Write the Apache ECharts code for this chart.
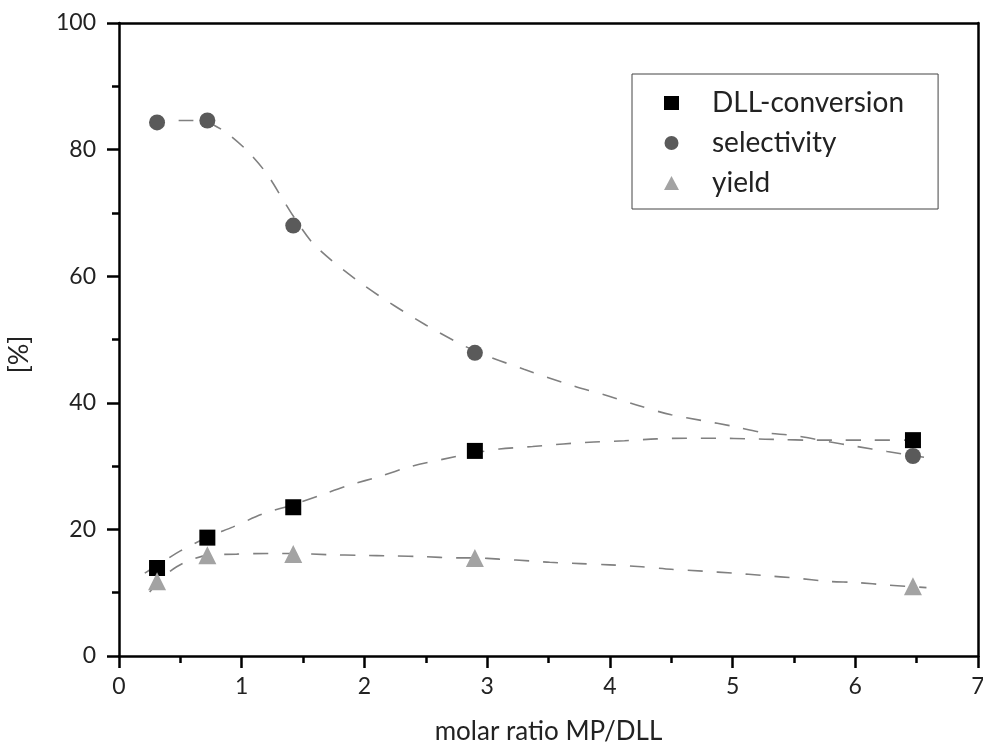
<!DOCTYPE html>
<html><head><meta charset="utf-8">
<script src="https://cdn.jsdelivr.net/npm/echarts@6/dist/echarts.min.js"></script>
<style>html,body{margin:0;padding:0;background:#fff}#c{width:983px;height:748px}</style>
</head><body><div id="c"></div>
<script>
// measured points
const convX = [0.31, 0.72, 1.42, 2.90, 6.47];
const convY = [13.9, 18.7, 23.5, 32.4, 34.1];
const selX = [0.31, 0.72, 1.42, 2.90, 6.47];
const selY = [84.3, 84.6, 68.0, 47.9, 31.6];
const yieldX = [0.31, 0.72, 1.42, 2.90, 6.47];
const yieldY = [11.8, 15.9, 16.1, 15.5, 11.0];
// dashed fit curves
const convFitX = [0.21, 0.31, 0.5, 0.72, 0.93, 1.18, 1.42, 1.64, 1.88, 2.13, 2.37, 2.62, 2.90, 3.1, 3.37, 3.62, 3.87, 4.12, 4.38, 4.63, 4.88, 5.14, 5.39, 5.63, 5.9, 6.14, 6.45];
const convFitY = [13.1, 14.3, 16.6, 18.75, 20.4, 22.5, 23.9, 25.4, 27.0, 28.4, 29.9, 31.0, 32.1, 32.7, 33.1, 33.5, 33.8, 34.0, 34.3, 34.4, 34.4, 34.3, 34.2, 34.1, 34.1, 34.1, 34.1];
const selFitX = [0.25, 0.4, 0.55, 0.72, 0.88, 1.04, 1.2, 1.33, 1.42, 1.6, 2.0, 2.5, 2.9, 3.3, 3.7, 4.0, 4.26, 4.5, 4.75, 5.0, 5.25, 5.51, 5.77, 6.01, 6.26, 6.56];
const selFitY = [84.3, 84.6, 84.6, 84.3, 82.6, 79.9, 76.3, 72.3, 69.5, 64.8, 58.5, 52.3, 48.2, 45.3, 42.7, 41.0, 39.4, 38.1, 37.2, 36.3, 35.3, 34.8, 33.9, 33.1, 32.3, 31.4];
const yieldFitX = [0.25, 0.35, 0.47, 0.6, 0.72, 0.96, 1.23, 1.42, 1.72, 1.96, 2.24, 2.48, 2.75, 2.9, 3.1, 3.37, 3.51, 3.76, 4.0, 4.26, 4.5, 4.76, 5.0, 5.26, 5.52, 5.77, 6.01, 6.27, 6.58];
const yieldFitY = [10.1, 12.3, 14.1, 15.3, 15.9, 16.1, 16.2, 16.2, 16.0, 15.9, 15.8, 15.7, 15.5, 15.5, 15.3, 15.0, 14.8, 14.6, 14.4, 14.1, 13.7, 13.4, 13.1, 12.7, 12.3, 11.8, 11.6, 11.2, 10.8];
const seriesNames = ['DLL-conversion', 'selectivity', 'yield'];
const xTicks = [0, 1, 2, 3, 4, 5, 6, 7];
const yTicks = [0, 20, 40, 60, 80, 100];

const zip = (a, b) => a.map((v, i) => [v, b[i]]);
const font = 'Lato, "Open Sans", sans-serif';
const chart = echarts.init(document.getElementById('c'), null, {renderer: 'canvas'});
const fitStyle = {type: [15, 14], color: '#808080', width: 1.6};
const fitSeries = (d) => ({type: 'line', data: d, smooth: 0.3, symbol: 'none', lineStyle: fitStyle, silent: true, z: 2});
chart.setOption({
  animation: false,
  backgroundColor: '#fff',
  grid: {left: 119, right: 5, top: 23, bottom: 92, outerBoundsMode: 'none', containLabel: false},
  legend: {
    data: seriesNames,
    orient: 'vertical',
    left: 632, top: 74,
    padding: [15, 34, 12, 32],
    itemGap: 12,
    itemWidth: 15, itemHeight: 14,
    borderColor: '#444', borderWidth: 1,
    textStyle: {fontFamily: font, fontSize: 28, lineHeight: 26, color: '#222', padding: [0, 0, 0, 28]}
  },
  xAxis: [{
    type: 'value', min: 0, max: 7, interval: 1, position: 'bottom',
    name: 'molar ratio MP/DLL', nameLocation: 'middle', nameGap: 63,
    nameTextStyle: {fontFamily: font, fontSize: 26, color: '#222'},
    axisLine: {lineStyle: {color: '#000', width: 2.5}},
    axisTick: {inside: false, length: 12, lineStyle: {width: 2.5, color: '#000'}},
    minorTick: {show: true, splitNumber: 2, length: 7, lineStyle: {width: 2.5, color: '#000'}},
    axisLabel: {fontFamily: font, fontSize: 23, color: '#222', margin: 19, formatter: v => xTicks.includes(v) ? String(v) : ''},
    splitLine: {show: false}
  }, {
    type: 'value', min: 0, max: 7, position: 'top',
    axisLine: {show: true, onZero: false, lineStyle: {color: '#000', width: 2.5}},
    axisTick: {show: false}, axisLabel: {show: false}, splitLine: {show: false}
  }],
  yAxis: [{
    type: 'value', min: 0, max: 100, interval: 20, position: 'left',
    name: '[%]', nameLocation: 'middle', nameGap: 86, nameRotate: 90,
    nameTextStyle: {fontFamily: font, fontSize: 27, color: '#222', padding: [0, 30, 0, 0]},
    axisLine: {show: true, lineStyle: {color: '#000', width: 2.5}},
    axisTick: {show: true, inside: false, length: 12, lineStyle: {width: 2.5, color: '#000'}},
    minorTick: {show: true, splitNumber: 2, length: 7, lineStyle: {width: 2.5, color: '#000'}},
    axisLabel: {fontFamily: font, fontSize: 23, color: '#222', margin: 23, formatter: v => yTicks.includes(v) ? String(v) : ''},
    splitLine: {show: false}
  }, {
    type: 'value', min: 0, max: 100, position: 'right',
    axisLine: {show: true, onZero: false, lineStyle: {color: '#000', width: 2.5}},
    axisTick: {show: false}, axisLabel: {show: false}, splitLine: {show: false}
  }],
  series: [
    fitSeries(zip(convFitX, convFitY)),
    fitSeries(zip(selFitX, selFitY)),
    fitSeries(zip(yieldFitX, yieldFitY)),
    {name: seriesNames[0], type: 'scatter', data: zip(convX, convY), symbol: 'rect', symbolSize: 16, itemStyle: {color: '#000', opacity: 1}, z: 5},
    {name: seriesNames[1], type: 'scatter', data: zip(selX, selY), symbol: 'circle', symbolSize: 16, itemStyle: {color: '#5a5a5a', opacity: 1}, z: 5},
    {name: seriesNames[2], type: 'scatter', data: zip(yieldX, yieldY), symbol: 'triangle', symbolSize: 18, itemStyle: {color: '#a3a3a3', opacity: 1}, z: 5}
  ]
});
</script></body></html>
